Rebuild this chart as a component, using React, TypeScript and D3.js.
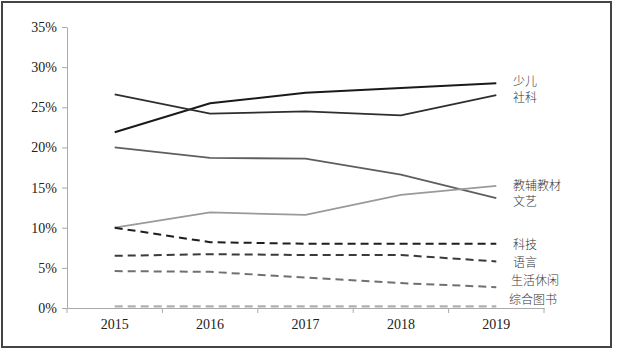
import React, { useEffect, useRef } from "react";
import * as d3 from "d3";

const years = ["2015", "2016", "2017", "2018", "2019"];
const yTicks = [0, 5, 10, 15, 20, 25, 30, 35];

const seriesNames = ["少儿", "社科", "文艺", "教辅教材", "科技", "语言", "生活休闲", "综合图书"];
const shaoer = [21.9, 25.5, 26.8, 27.4, 28.0];
const sheke = [26.6, 24.2, 24.5, 24.0, 26.5];
const wenyi = [20.0, 18.7, 18.6, 16.6, 13.7];
const jiaofu = [10.0, 11.9, 11.6, 14.1, 15.2];
const keji = [10.0, 8.2, 8.0, 8.0, 8.0];
const yuyan = [6.5, 6.7, 6.6, 6.6, 5.8];
const shenghuo = [4.6, 4.5, 3.8, 3.1, 2.6];
const zonghe = [0.2, 0.2, 0.2, 0.2, 0.2];

const seriesValues = [shaoer, sheke, wenyi, jiaofu, keji, yuyan, shenghuo, zonghe];
const colors = ["#1a1a1a", "#2e2e2e", "#5e5e5e", "#9a9a9a", "#1e1e1e", "#3a3a3a", "#707070", "#b0b0b0"];
const dashes = [null, null, null, null, "8,5", "8,5", "8,5", "8,5"];
const widths = [2, 1.8, 1.8, 1.8, 2, 2, 2, 2.2];
const labelY = [80, 96, 200, 184, 243, 261, 279, 298];
const labelX = [513, 513, 513, 513, 513, 513, 511, 509];

export default function App() {
  const ref = useRef<SVGSVGElement>(null);
  useEffect(() => {
    const svg = d3.select(ref.current);
    svg.selectAll("*").remove();
    const left = 67, right = 544, top = 27, bottom = 308;
    const x = d3.scaleBand().domain(years).range([left, right]);
    const y = d3.scaleLinear().domain([0, 35]).range([bottom, top]);

    svg.append("rect").attr("x", 2).attr("y", 2).attr("width", 609).attr("height", 345)
      .attr("fill", "white").attr("stroke", "#444").attr("stroke-width", 2);

    const font = "'Liberation Serif', 'Times New Roman', serif";
    // y axis
    const gy = svg.append("g").attr("transform", `translate(${left},0)`)
      .call(d3.axisLeft(y).tickValues(yTicks).tickSize(5).tickSizeOuter(0).tickFormat((d: any) => `${d}%`));
    gy.select(".domain").attr("stroke", "#aaa");
    gy.selectAll(".tick line").attr("stroke", "#aaa");
    gy.selectAll(".tick text").attr("font-family", font).attr("font-size", 14).attr("fill", "#222").attr("x", -10);

    // x axis
    const gx = svg.append("g").attr("transform", `translate(0,${bottom})`)
      .call(d3.axisBottom(x).tickSize(0).tickSizeOuter(0));
    gx.select(".domain").attr("stroke", "#aaa");
    gx.selectAll(".tick text").attr("font-family", font).attr("font-size", 14).attr("fill", "#222").attr("dy", "1.3em");
    const bounds = [left, ...years.map((yr) => (x(yr) as number) + x.bandwidth())];
    svg.append("g").selectAll("line").data(bounds).join("line")
      .attr("x1", (d) => d).attr("x2", (d) => d).attr("y1", bottom).attr("y2", bottom + 5)
      .attr("stroke", "#aaa");

    const line = d3.line<number>()
      .x((_, i) => (x(years[i]) as number) + x.bandwidth() / 2)
      .y((d) => y(d));

    seriesValues.forEach((vals, i) => {
      const p = svg.append("path").attr("d", line(vals) as string).attr("fill", "none")
        .attr("stroke", colors[i]).attr("stroke-width", widths[i]);
      if (dashes[i]) p.attr("stroke-dasharray", dashes[i] as string);
    });

    svg.append("g").selectAll("text").data(seriesNames).join("text")
      .attr("x", (_, i) => labelX[i]).attr("y", (_, i) => labelY[i])
      .attr("dominant-baseline", "central")
      .attr("font-family", "'Noto Sans CJK SC', sans-serif").attr("font-size", 12)
      .attr("font-weight", 300)
      .attr("fill", "#333").text((d) => d);
  }, []);
  return (
    <svg ref={ref} width={617} height={355} style={{ position: "absolute", left: 0, top: 0, background: "white" }} />
  );
}
